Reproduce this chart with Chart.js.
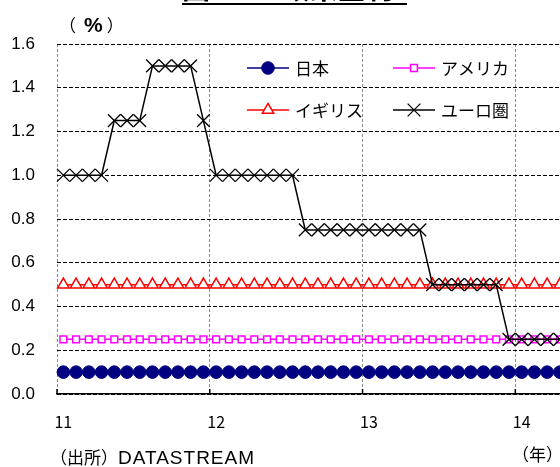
<!DOCTYPE html>
<html>
<head>
<meta charset="utf-8">
<script src="https://cdn.jsdelivr.net/npm/chart.js@4.4.1/dist/chart.umd.min.js"></script>
<style>
  html, body { margin: 0; padding: 0; background: #fff; overflow: hidden; }
  #wrap { position: relative; width: 580px; height: 467px; }
  .note { position: absolute; white-space: nowrap; font-family: "Noto Sans CJK JP", sans-serif; color: #000; }
  #title { left: 182px; top: -29px; font-size: 28px; font-weight: bold; line-height: 32px; border-bottom: 2px solid #000; width: 225px; }
  #unit { left: 59px; top: 13px; font-size: 17px; line-height: 24px; }
  #unit b { font-family: "Liberation Sans", Arial, sans-serif; font-size: 21px; font-weight: bold; margin: 0 4px 0 8px; }
  #source { left: 50px; top: 446px; font-size: 17px; line-height: 22px; }
  #source span { font-family: "Liberation Sans", Arial, sans-serif; font-size: 19px; letter-spacing: 1px; }
  #year { left: 512px; top: 443px; font-size: 17px; line-height: 22px; }
</style>
</head>
<body>
<div id="wrap">
  <canvas id="rateChart" width="578" height="467"></canvas>
  <div class="note" id="title">図2-1　政策金利</div>
  <div class="note" id="unit">（<b>%</b>）</div>
  <div class="note" id="source">（出所）<span>DATASTREAM</span></div>
  <div class="note" id="year">（年）</div>
</div>
<script>
// monthly policy rates, Jan 2011 - Apr 2014
const yearLabels = ["11", "12", "13", "14"];
const seriesNames = ["日本", "アメリカ", "イギリス", "ユーロ圏"];

const japan = [
  0.1, 0.1, 0.1, 0.1, 0.1, 0.1, 0.1, 0.1, 0.1, 0.1, 0.1, 0.1,
  0.1, 0.1, 0.1, 0.1, 0.1, 0.1, 0.1, 0.1, 0.1, 0.1, 0.1, 0.1,
  0.1, 0.1, 0.1, 0.1, 0.1, 0.1, 0.1, 0.1, 0.1, 0.1, 0.1, 0.1,
  0.1, 0.1, 0.1, 0.1
];
const usa = [
  0.25, 0.25, 0.25, 0.25, 0.25, 0.25, 0.25, 0.25, 0.25, 0.25, 0.25, 0.25,
  0.25, 0.25, 0.25, 0.25, 0.25, 0.25, 0.25, 0.25, 0.25, 0.25, 0.25, 0.25,
  0.25, 0.25, 0.25, 0.25, 0.25, 0.25, 0.25, 0.25, 0.25, 0.25, 0.25, 0.25,
  0.25, 0.25, 0.25, 0.25
];
const uk = [
  0.5, 0.5, 0.5, 0.5, 0.5, 0.5, 0.5, 0.5, 0.5, 0.5, 0.5, 0.5,
  0.5, 0.5, 0.5, 0.5, 0.5, 0.5, 0.5, 0.5, 0.5, 0.5, 0.5, 0.5,
  0.5, 0.5, 0.5, 0.5, 0.5, 0.5, 0.5, 0.5, 0.5, 0.5, 0.5, 0.5,
  0.5, 0.5, 0.5, 0.5
];
const euro = [
  1.0, 1.0, 1.0, 1.0, 1.25, 1.25, 1.25, 1.5, 1.5, 1.5, 1.5, 1.25,
  1.0, 1.0, 1.0, 1.0, 1.0, 1.0, 1.0, 0.75, 0.75, 0.75, 0.75, 0.75,
  0.75, 0.75, 0.75, 0.75, 0.75, 0.5, 0.5, 0.5, 0.5, 0.5, 0.5, 0.25,
  0.25, 0.25, 0.25, 0.25
];

const monthLabels = [];
yearLabels.forEach(y => {
  for (let m = 1; m <= 12; m++) monthLabels.push(y + "/" + m);
});
monthLabels.length = japan.length;

Chart.defaults.font.family = "'Noto Sans CJK JP', sans-serif";
Chart.defaults.color = "#000";

// legend drawn inside the plot, 2 x 2
const innerLegend = {
  id: "innerLegend",
  afterDraw(chart) {
    const { ctx, chartArea } = chart;
    const cols = [190, 336];
    const rows = [24, 66];
    ctx.save();
    chart.data.datasets.forEach((ds, i) => {
      const x0 = chartArea.left + cols[i % 2];
      const y = chartArea.top + rows[Math.floor(i / 2)];
      ctx.strokeStyle = ds.borderColor;
      ctx.lineWidth = 1.5;
      ctx.setLineDash([]);
      ctx.beginPath();
      ctx.moveTo(x0, y);
      ctx.lineTo(x0 + 42, y);
      ctx.stroke();
      ctx.fillStyle = ds.pointBackgroundColor;
      ctx.strokeStyle = ds.pointBorderColor;
      ctx.lineWidth = ds.pointBorderWidth;
      Chart.helpers.drawPoint(ctx, {
        pointStyle: ds.pointStyle, radius: ds.pointRadius, rotation: 0,
        borderWidth: ds.pointBorderWidth
      }, x0 + 21, y);
      ctx.fillStyle = "#000";
      ctx.font = "17px 'Noto Sans CJK JP'";
      ctx.textBaseline = "middle";
      ctx.fillText(ds.label, x0 + 48, y + 1);
    });
    ctx.restore();
  }
};

// short tick marks pointing up from the bottom axis at year boundaries
const yearTicks = {
  id: "yearTicks",
  afterDraw(chart) {
    const x = chart.scales.x, ctx = chart.ctx;
    const half = (x.getPixelForValue(1) - x.getPixelForValue(0)) / 2;
    ctx.save();
    ctx.strokeStyle = "#000";
    ctx.lineWidth = 1.5;
    for (let i = 0; i < monthLabels.length; i += 12) {
      const px = x.getPixelForValue(i) - half;
      ctx.beginPath();
      ctx.moveTo(px, x.top);
      ctx.lineTo(px, x.top - 5);
      ctx.stroke();
    }
    ctx.restore();
  }
};

const ctx = document.getElementById("rateChart").getContext("2d");
new Chart(ctx, {
  type: "line",
  data: {
    labels: monthLabels,
    datasets: [
      {
        label: seriesNames[0], data: japan, order: 3,
        borderColor: "#000080", borderWidth: 1.5,
        pointStyle: "circle", pointRadius: 6.3, pointBorderWidth: 1,
        pointBackgroundColor: "#000080", pointBorderColor: "#000080"
      },
      {
        label: seriesNames[1], data: usa, order: 2,
        borderColor: "#ff00ff", borderWidth: 1.5,
        pointStyle: "rect", pointRadius: 4.8, pointBorderWidth: 1.5,
        pointBackgroundColor: "#ffffff", pointBorderColor: "#ff00ff"
      },
      {
        label: seriesNames[2], data: uk, order: 1,
        borderColor: "#ff0000", borderWidth: 1.5,
        pointStyle: "triangle", pointRadius: 6.6, pointBorderWidth: 1.5,
        pointBackgroundColor: "#ffffff", pointBorderColor: "#ff0000"
      },
      {
        label: seriesNames[3], data: euro, order: 0,
        borderColor: "#000000", borderWidth: 1.5,
        pointStyle: "crossRot", pointRadius: 9, pointBorderWidth: 1.3,
        pointBackgroundColor: "#000000", pointBorderColor: "#000000"
      }
    ]
  },
  options: {
    responsive: false,
    animation: false,
    devicePixelRatio: 1,
    layout: { padding: { top: 44, left: 0, right: 0, bottom: 0 } },
    plugins: {
      legend: { display: false },
      tooltip: { enabled: false }
    },
    elements: { line: { tension: 0 } },
    scales: {
      x: {
        type: "category",
        offset: true,
        afterFit(scale) { scale.height = 73; },
        grid: {
          offset: true,
          drawTicks: false,
          color: c => (c.index % 12 === 0 ? "#8c8c8c" : "rgba(0,0,0,0)"),
          lineWidth: 1
        },
        border: { display: true, color: "#000", width: 1.5, dash: [3, 2] },
        ticks: {
          autoSkip: false,
          maxRotation: 0,
          minRotation: 0,
          padding: 18,
          font: { size: 16 },
          callback: (v, i) => (i % 12 === 0 ? yearLabels[i / 12] : "")
        }
      },
      y: {
        min: 0,
        max: 1.6,
        afterFit(scale) { scale.width = 57; },
        grid: { color: "#000", lineWidth: 1, drawTicks: false },
        border: { display: false, dash: [4, 2] },
        ticks: {
          stepSize: 0.2,
          padding: 22,
          font: { family: "'Liberation Sans', Arial, sans-serif", size: 17 },
          callback: v => v.toFixed(1)
        }
      }
    }
  },
  plugins: [innerLegend, yearTicks]
});
</script>
</body>
</html>
